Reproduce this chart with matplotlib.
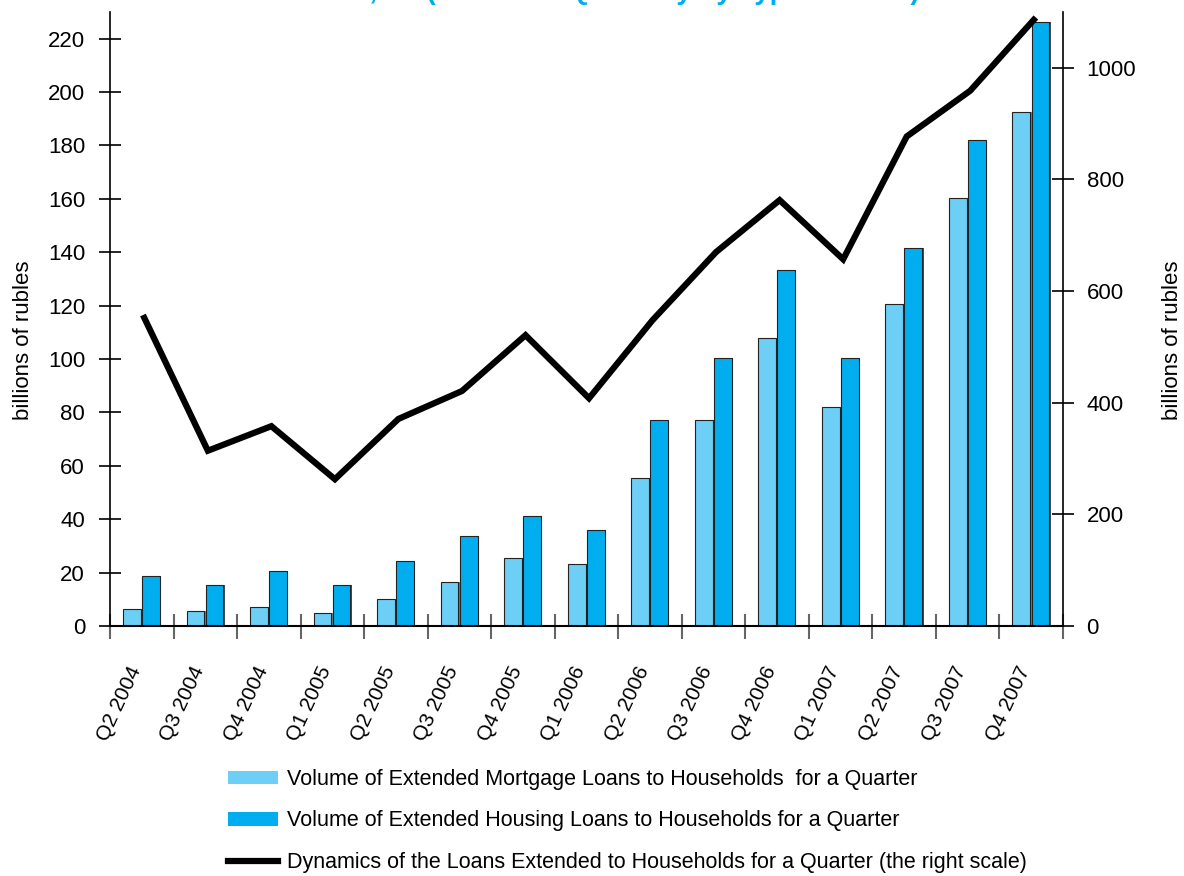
import matplotlib
matplotlib.use("Agg")
import matplotlib.pyplot as plt
import matplotlib.transforms as mtransforms
import numpy as np
from matplotlib.patches import Patch
from matplotlib.lines import Line2D

plt.rcParams['font.family'] = ['Liberation Sans', 'DejaVu Sans']

quarters = ["Q2 2004", "Q3 2004", "Q4 2004", "Q1 2005", "Q2 2005", "Q3 2005",
            "Q4 2005", "Q1 2006", "Q2 2006", "Q3 2006", "Q4 2006", "Q1 2007",
            "Q2 2007", "Q3 2007", "Q4 2007"]
mortgage = [6.3, 5.5, 7.0, 4.7, 10.0, 16.6, 25.6, 23.4, 55.5, 77.3, 107.9, 82.2,
            120.7, 160.3, 192.4]
housing = [18.9, 15.2, 20.5, 15.2, 24.2, 33.8, 41.3, 36.0, 77.3, 100.4, 133.5,
           100.4, 141.7, 182.1, 226.4]
total_loans = [552, 314, 358, 263, 371, 421, 521, 408, 548, 670, 763, 657, 877,
               959, 1086]

label_mortgage = "Volume of Extended Mortgage Loans to Households  for a Quarter"
label_housing = "Volume of Extended Housing Loans to Households for a Quarter"
label_total = "Dynamics of the Loans Extended to Households for a Quarter (the right scale)"
title_text = "Loans to Households, bn (Extended Quarterly by Type of Loan)"

c_light = "#6DCFF6"
c_dark = "#00AEEF"

fig = plt.figure(figsize=(11.84, 8.76), dpi=100)
ax = fig.add_axes([110/1184, 1-626/876, 953/1184, 614/876])
ax2 = ax.twinx()

x = np.arange(len(quarters))
w = 0.28
# shadows
ax.bar(x - 0.155 + 0.02, mortgage, w, color="#7a7a7a", zorder=1)
ax.bar(x + 0.145 + 0.02, housing, w, color="#4a4a4a", zorder=1)
ax.bar(x - 0.155, mortgage, w, color=c_light, edgecolor="#222222", linewidth=0.8, zorder=2)
ax.bar(x + 0.145, housing, w, color=c_dark, edgecolor="#222222", linewidth=0.8, zorder=2)

ax2.plot(x + 0.04, total_loans, color="black", lw=4.5, solid_joinstyle="miter", zorder=3)

ax.set_xlim(-0.5, len(quarters) - 0.5)
ax.set_ylim(0, 230)
ax2.set_ylim(0, 1100)
ax.set_yticks(np.arange(0, 221, 20))
ax2.set_yticks(np.arange(0, 1001, 200))

ax.set_xticks(x)
ax.set_xticklabels(quarters)
ax.set_xticks(np.arange(-0.5, len(quarters)), minor=True)
ax.tick_params(axis='x', which='major', length=0, pad=30, labelsize=15)
ax.tick_params(axis='x', which='minor', direction='inout', length=18, width=1.5, color="#666666")
shift = mtransforms.ScaledTranslation(-6/100, 0, fig.dpi_scale_trans)
for lab in ax.get_xticklabels():
    lab.set_rotation(65)
    lab.set_ha('right')
    lab.set_va('center')
    lab.set_rotation_mode('anchor')
    lab.set_transform(lab.get_transform() + shift)

ax.tick_params(axis='y', direction='inout', length=16, width=1.2, pad=10, labelsize=16)
ax2.tick_params(axis='y', direction='inout', length=16, width=1.2, pad=9, labelsize=16)

for a in (ax, ax2):
    a.spines['top'].set_visible(False)
ax.spines['right'].set_visible(False)
ax2.spines['left'].set_visible(False)
ax2.spines['bottom'].set_visible(False)
ax.spines['left'].set_linewidth(1.2)
ax2.spines['right'].set_linewidth(1.2)
ax.spines['bottom'].set_linewidth(1.5)

ax.set_ylabel("billions of rubles", fontsize=16)
ax.yaxis.set_label_coords(-0.080, 0.466)
ax2.set_ylabel("billions of rubles", fontsize=16)
ax2.yaxis.set_label_coords(1.104, 0.466)

handles = [Patch(facecolor=c_light, edgecolor='none'),
           Patch(facecolor=c_dark, edgecolor='none'),
           Line2D([0], [0], color='black', lw=4.5)]
fig.legend(handles, [label_mortgage, label_housing, label_total],
           loc='upper left', bbox_to_anchor=(228/1184, 1-769/876),
           frameon=False, fontsize=15.5, handlelength=2.3, handleheight=0.6,
           handletextpad=0.42, labelspacing=0.95, borderpad=0, borderaxespad=0)

fig.text(920/1184, 1.0 + 0.024, title_text, color=c_dark, fontsize=20, fontweight='bold',
         ha='right', va='top')

fig.savefig("out.png", dpi=100)
